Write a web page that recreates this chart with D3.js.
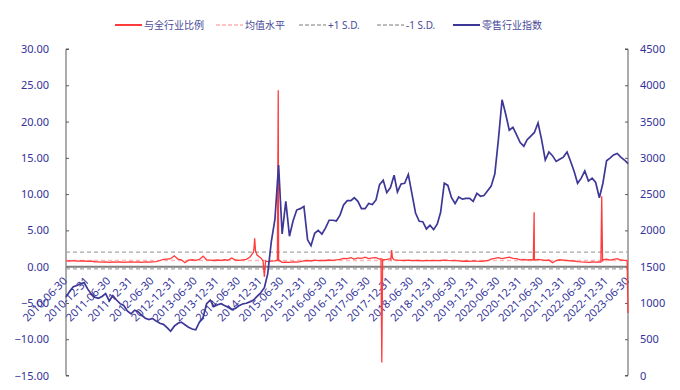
<!DOCTYPE html>
<html><head><meta charset="utf-8">
<script src="https://cdn.jsdelivr.net/npm/d3@7"></script>
<style>
html,body{margin:0;padding:0;background:#fff;}
text{font-family:"Noto Sans","Noto Sans CJK SC",sans-serif;}
</style></head>
<body><svg id="c" width="680" height="390"></svg>
<script>
// ---- data ----
const startYear = 2010, startMonth = 6; // monthly series start (month-end dates)
const seriesNames = ["与全行业比例","均值水平","+1 S.D.","-1 S.D.","零售行业指数"];
const leftTicks = [30,25,20,15,10,5,0,-5,-10,-15];
const rightTicks = [4500,4000,3500,3000,2500,2000,1500,1000,500,0];
const xTickLabels = ["2010-06-30","2010-12-31","2011-06-30","2011-12-31","2012-06-30","2012-12-31","2013-06-30","2013-12-31","2014-06-30","2014-12-31","2015-06-30","2015-12-31","2016-06-30","2016-12-31","2017-06-30","2017-12-31","2018-06-30","2018-12-31","2019-06-30","2019-12-31","2020-06-30","2020-12-31","2021-06-30","2021-12-31","2022-06-30","2022-12-31","2023-06-30"];
const meanLevel = 0.85, plusSD = 2.0, minusSD = -0.3;
// 零售行业指数 (monthly)
const indexValues = [1080,1160,1224,1240,1265,1280,1190,1120,1080,1064,
1090,1130,1030,1100,1040,990,965,890,850,900,
880,830,790,770,785,750,720,705,660,610,
680,720,735,700,665,640,630,735,800,990,
1040,950,975,990,965,940,910,925,960,985,
995,1015,1040,1090,1140,1210,1400,1850,2150,2900,
1950,2400,1920,2130,2280,2300,2330,1870,1790,1960,
2000,1950,2030,2140,2140,2130,2210,2350,2410,2410,
2450,2400,2300,2300,2370,2355,2420,2630,2690,2520,
2590,2760,2530,2640,2650,2770,2510,2240,2125,2120,
2020,2070,2010,2090,2250,2650,2620,2450,2370,2460,
2430,2440,2440,2400,2510,2470,2480,2545,2610,2780,
3250,3800,3600,3380,3420,3320,3210,3160,3250,3300,
3350,3480,3250,2970,3080,3030,2950,2980,3010,3080,
2960,2820,2650,2720,2820,2680,2720,2660,2450,2650,
2960,3000,3040,3060,3010,2970,2920];
// 与全行业比例 (monthly)
const ratioValues = [0.80,0.78,0.82,0.76,0.80,0.78,0.74,0.76,
0.68,0.65,0.62,0.66,0.60,0.64,0.62,0.65,0.60,0.63,0.66,0.62,0.64,0.60,0.65,0.63,0.67,0.70,0.85,
1.00,1.05,1.10,1.50,1.05,0.95,0.55,
0.90,0.95,0.88,1.00,1.45,0.95,0.90,0.85,0.92,0.88,0.95,0.90,1.20,0.92,0.88,0.95,1.00,1.30,
2.0,1.6,1.2,
-1.4,
0.70,0.75,0.80,
0.85,
0.60,0.62,0.58,0.65,0.62,0.70,
0.80,0.85,0.78,0.90,0.82,0.88,0.85,0.92,0.88,0.95,1.00,
1.15,1.10,1.25,1.05,1.20,1.15,1.30,1.10,1.20,1.25,1.05,
0.95,
1.00,1.10,
0.95,0.90,0.88,0.85,0.90,0.82,0.88,0.85,0.80,0.86,0.84,0.88,0.82,0.85,0.90,0.86,0.83,0.88,
0.80,0.75,0.78,0.72,0.80,0.76,0.74,0.78,0.82,
1.05,1.15,1.25,1.10,1.20,1.30,1.15,1.10,
0.95,1.00,0.92,0.98,0.90,
1.00,0.95,0.88,0.92,0.55,0.85,0.95,0.90,0.85,0.80,0.78,0.70,
0.65,0.62,0.60,0.64,0.62,0.66,
0.95,1.05,0.90,1.00,1.10,0.92,0.88,
-6.4];
// 与全行业比例 short-lived spikes (daily observations)
const spikeDates = ["2014-11-03","2014-11-10","2014-11-17","2015-01-20","2015-02-10","2015-05-21","2015-05-28","2015-06-04",
"2017-10-12","2017-10-19","2017-10-26","2018-01-03","2018-01-10","2018-01-17",
"2021-04-21","2021-04-28","2021-05-05","2022-11-13","2022-11-20","2022-11-27","2023-06-23"];
const spikeValues = [2.3,3.9,2.2,0.8,0.8,0.9,24.3,0.9,
1.1,-13.2,1.0,1.0,2.3,1.2,
0.95,7.5,0.95,0.65,9.7,0.7,0.85];

// ---- build ----
const parse = d3.timeParse("%Y-%m-%d");
const monthEnd = i => new Date(startYear, startMonth + i, 0);
const indexData = indexValues.map((v,i)=>({d:monthEnd(i), v}));
const ratioData = ratioValues.map((v,i)=>({d:monthEnd(i), v}))
  .concat(spikeDates.map((s,i)=>({d:parse(s), v:spikeValues[i]})))
  .sort((a,b)=>a.d-b.d);

const svg = d3.select("#c");
const L = 66, R = 628, T = 49, B = 375.5;
const x = d3.scaleTime().domain([parse("2010-06-30"), parse("2023-06-30")]).range([L, R]);
const yL = d3.scaleLinear().domain([-15,30]).range([B, T]);
const yR = d3.scaleLinear().domain([0,4500]).range([B, T]);
const txt = "#333399";

// axes
const axL = svg.append("g").attr("transform",`translate(${L},0)`)
  .call(d3.axisRight(yL).tickValues(leftTicks).tickSize(3).tickFormat(d3.format(".2f")));
axL.select(".domain").attr("stroke","#595959").attr("d",`M3,${T}H0V${B}H3`);
axL.selectAll(".tick line").attr("stroke","#595959");
axL.selectAll(".tick text").attr("x",-17).attr("text-anchor","end")
  .attr("fill",txt).attr("font-size",11);

const axR = svg.append("g").attr("transform",`translate(${R},0)`)
  .call(d3.axisLeft(yR).tickValues(rightTicks).tickSize(3).tickFormat(d3.format("d")));
axR.select(".domain").attr("stroke","#595959").attr("d",`M-3,${T}H0V${B}H-3`);
axR.selectAll(".tick line").attr("stroke","#595959");
axR.selectAll(".tick text").attr("x",12).attr("text-anchor","start")
  .attr("fill",txt).attr("font-size",11);

// x labels
const xTickDates = xTickLabels.map(parse);
const y0 = yL(0);
svg.append("g").selectAll("text").data(xTickDates).join("text")
  .attr("transform", d=>`translate(${x(d)+2},${y0+15}) rotate(-45)`)
  .attr("text-anchor","end").attr("fill",txt).attr("font-size",11)
  .text((d,i)=>xTickLabels[i]);

// reference lines
const hline = (v,color,dash,w)=>svg.append("line").attr("x1",L).attr("x2",R)
  .attr("y1",yL(v)).attr("y2",yL(v)).attr("stroke",color).attr("stroke-width",w)
  .attr("stroke-dasharray",dash);
hline(plusSD,"#a6a6a6","4,3",1.3);
hline(minusSD,"#a6a6a6","4,3",1.3);
hline(0,"#808080",null,2);
hline(meanLevel,"#ffb3b3","4,3",1.3);

// series
svg.append("path").datum(ratioData)
  .attr("d", d3.line().x(d=>x(d.d)).y(d=>yL(d.v)))
  .attr("fill","none").attr("stroke","#ff3b3b").attr("stroke-width",1.3);
svg.append("path").datum(indexData)
  .attr("d", d3.line().x(d=>x(d.d)).y(d=>yR(d.v)))
  .attr("fill","none").attr("stroke","#3d3797").attr("stroke-width",1.7);

// legend
const leg = [
  {x:115, c:"#ff3b3b", dash:null, w:2},
  {x:216, c:"#ffb3b3", dash:"4,2", w:1.5},
  {x:299, c:"#a6a6a6", dash:"4,2", w:1.5},
  {x:377, c:"#a6a6a6", dash:"4,2", w:1.5},
  {x:453, c:"#3d3797", dash:null, w:2}
];
const lg = svg.append("g");
leg.forEach((l,i)=>{
  lg.append("line").attr("x1",l.x).attr("x2",l.x+27).attr("y1",25).attr("y2",25)
    .attr("stroke",l.c).attr("stroke-width",l.w).attr("stroke-dasharray",l.dash);
  lg.append("text").attr("x",l.x+29).attr("y",25).attr("dominant-baseline","central")
    .attr("font-size",10).attr("fill","#4a4a9a").text(seriesNames[i]);
});
</script></body></html>
